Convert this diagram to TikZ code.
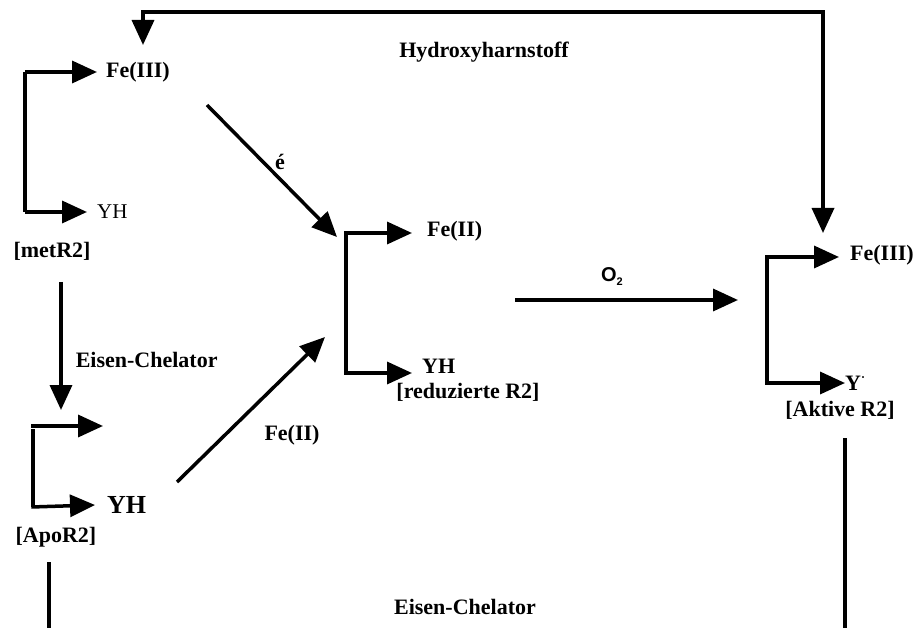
\documentclass[tikz,border=0pt]{standalone}
\usepackage{fontspec}
\setmainfont{Liberation Serif}
\newfontfamily\labsans{Liberation Sans}
\usetikzlibrary{arrows.meta}

\tikzset{
  strich/.style={line width=3.5pt},
  pfeil/.style={strich, -{Triangle[length=25pt,width=22pt]}},
  doppelpfeil/.style={strich, line join=miter, {Triangle[length=25pt,width=22pt]}-{Triangle[length=25pt,width=22pt]}},
  lab/.style={inner sep=0pt, font=\bfseries\fontsize{22}{26}\selectfont},
}

\begin{document}
\begin{tikzpicture}[x=1pt,y=-1pt]
  \useasboundingbox (0,0) rectangle (918,628);
  % Labels
  \node[lab] (hydroxy) at (484,52) {Hydroxyharnstoff};
  \node[lab] (chelbot) at (465,607) {Eisen-Chelator};
  % metR2
  \node[lab,anchor=west] (fe3met) at (106,72) {Fe(III)};
  \node[lab,anchor=west,font=\fontsize{21}{24}\selectfont] (yhmet) at (97,212) {YH};
  \node[lab] (met) at (52,251) {[metR2]};
  \coordinate (mo) at (25,72);
  \coordinate (mu) at (25,212);
  \draw[strich] (mo) -- (mu);
  \draw[pfeil] (mo) -- ([xshift=-9pt]fe3met.west);
  \draw[pfeil] (mu) -- ([xshift=-10pt]yhmet.west);
  % Eisen-Chelator
  \coordinate (chel1) at (61,282);
  \coordinate (chel2) at (61,410);
  \draw[pfeil] (chel1) -- (chel2) node[lab,midway,anchor=west,xshift=13pt,yshift=-14pt] (chelator) {Eisen-Chelator};
  % ApoR2
  \node[lab,anchor=west,font=\bfseries\fontsize{26}{30}\selectfont] (yhapo) at (107,505) {YH};
  \node[lab] (apo) at (56,537) {[ApoR2]};
  \coordinate (ao) at (33,426);
  \coordinate (au) at (33,507);
  \coordinate (aoe) at (103,426);
  \draw[strich] ([yshift=-3pt]ao) -- (au);
  \draw[pfeil] ([xshift=-1.75pt]ao) -- (aoe);
  \draw[pfeil] ([xshift=-1.75pt]au) -- ([xshift=-12pt]yhapo.west);
  \coordinate (apol) at (49,562);
  \coordinate (apob) at (49,628);
  \draw[strich] (apol) -- (apob);
  % reduzierte R2
  \node[lab,anchor=west] (fe2red) at (427,231) {Fe(II)};
  \node[lab,anchor=west] (yhred) at (422,366) {YH};
  \node[lab] (red) at (468,392) {[reduzierte R2]};
  \coordinate (ro) at (346,233);
  \coordinate (ru) at (346,373);
  \draw[strich] (ro) -- (ru);
  \draw[pfeil] ([xshift=-1.75pt]ro) -- (412,233);
  \draw[pfeil] ([xshift=-1.75pt]ru) -- (412,373);
  % Reduktion und Eisen
  \coordinate (e1) at (207,105);
  \coordinate (e2) at (337,237);
  \draw[pfeil] (e1) -- (e2);
  \node[lab] (elek) at (280,162) {é};
  \coordinate (f1) at (177,482);
  \coordinate (f2) at (325,337);
  \draw[pfeil] (f1) -- (f2);
  \node[lab] (fe2lab) at (292,435) {Fe(II)};
  % O2
  \coordinate (o1) at (515,300);
  \coordinate (o2) at (738,300);
  \draw[pfeil] (o1) -- (o2);
  \node[inner sep=0pt,font=\labsans\bfseries\fontsize{20}{24}\selectfont] (otwo) at (612,277) {O\raisebox{-4pt}{\fontsize{11}{11}\selectfont 2}};
  % Aktive R2
  \node[lab,anchor=west] (fe3akt) at (850,255) {Fe(III)};
  \node[lab,anchor=west] (yakt) at (845,383) {Y\raisebox{9pt}{\fontsize{12}{12}\selectfont ·}};
  \node[lab] (akt) at (840,410) {[Aktive R2]};
  \coordinate (ko) at (767,257);
  \coordinate (ku) at (767,383);
  \draw[strich] (ko) -- (ku);
  \draw[pfeil] ([xshift=-1.75pt]ko) -- (839,257);
  \draw[pfeil] ([xshift=-1.75pt]ku) -- (yakt.west);
  \coordinate (aktl) at (845,438);
  \coordinate (aktb) at (845,628);
  \draw[strich] (aktl) -- (aktb);
  % Hydroxyharnstoff-Schleife
  \coordinate (hl) at (143,12);
  \coordinate (hr) at (823,12);
  \draw[doppelpfeil] (143,45) -- (hl) -- (hr) -- (823,233);
\end{tikzpicture}
\end{document}
